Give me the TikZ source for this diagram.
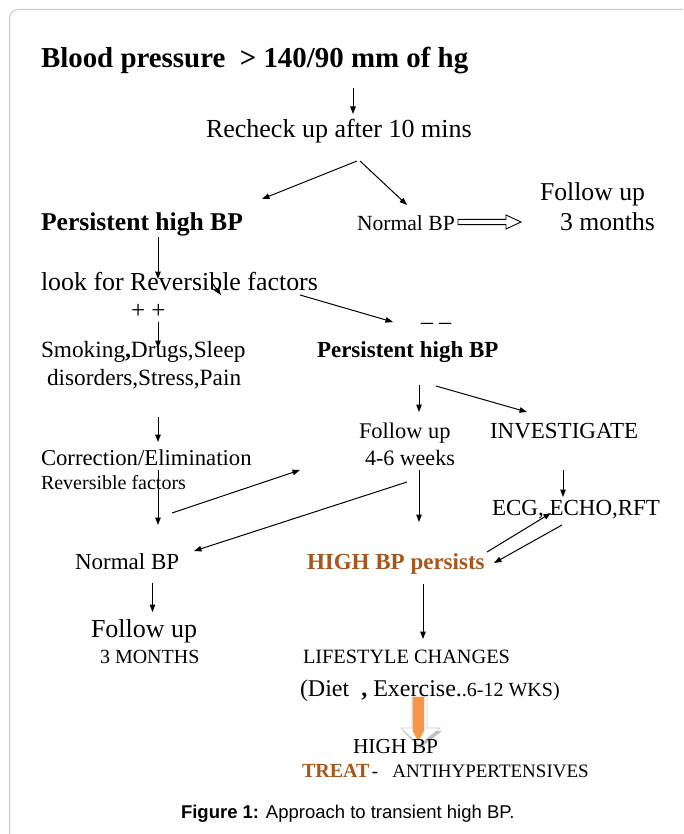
\documentclass[tikz,border=0pt]{standalone}
\usepackage{fontspec}
\setmainfont{Liberation Serif}
\newfontfamily\capfont{Liberation Sans}
\usetikzlibrary{arrows.meta,calc}
\definecolor{brownred}{RGB}{166,88,28}
\definecolor{boxorange}{RGB}{247,150,70}
\definecolor{framegray}{RGB}{200,200,200}
\newcommand\setfs[1]{\fontsize{#1}{#1}\selectfont}
\tikzset{
  txt/.style={anchor=base west, inner sep=0pt, outer sep=0pt},
  arr/.style={-{Triangle[length=7.5pt,width=5.5pt]}, line width=1pt, black},
}
\begin{document}
\begin{tikzpicture}[x=1pt,y=-1pt]
\useasboundingbox (0,0) rectangle (683,834);
\clip (0,0) rectangle (683,834);
\fill[white] (0,0) rectangle (683,834);
\draw[framegray, line width=1pt, rounded corners=9pt] (720,9.5) -- (9.5,9.5) -- (9.5,860);

% texts
\node[txt] (title) at (41,68) {\setfs{28.9}\bfseries Blood pressure~~> 140/90 mm of hg};
\node[txt] (recheck) at (206,138) {\setfs{26}Recheck up after 10 mins};
\node[txt] (pers1) at (41,230) {\setfs{25.6}\bfseries Persistent high BP};
\node[txt] (norm1) at (357,230) {\setfs{21.6}Normal BP};
\node[txt] (fu1) at (540,201) {\setfs{25.7}Follow up};
\node[txt] (fu1b) at (560,230) {\setfs{25.7}3 months};
\node[txt] (look) at (41,290) {\setfs{25.9}look for Reversible factors};
\node[txt] (pp) at (131,318) {\setfs{25}+ +};
\node[txt] (mm) at (421,329) {\setfs{24}– –};
\node[txt] (smk1) at (41,357) {\setfs{23.3}Smoking{\bfseries ,}Drugs,Sleep};
\node[txt] (smk2) at (47,385) {\setfs{23.3}disorders,Stress,Pain};
\node[txt] (pers2) at (317,357) {\setfs{23}\bfseries Persistent high BP};
\node[txt] (fu2) at (359,438) {\setfs{22.4}Follow up};
\node[txt] (fu2b) at (365,465) {\setfs{22}4-6 weeks};
\node[txt] (inv) at (490,438) {\setfs{23}INVESTIGATE};
\node[txt] (corr) at (41,465) {\setfs{22.7}Correction/Elimination};
\node[txt] (revf) at (41,489) {\setfs{20}Reversible factors};
\node[txt] (ecg) at (492,515) {\setfs{23}ECG, ECHO,RFT};
\node[txt] (norm2) at (75,569) {\setfs{23}Normal BP};
\node[txt] (hbp) at (307,569) {\setfs{23}\bfseries\color{brownred}HIGH BP persists};
\node[txt] (fu3) at (91,637) {\setfs{26}Follow up};
\node[txt] (fu3b) at (100,663) {\setfs{20}3 MONTHS};
\node[txt] (life) at (303,663) {\setfs{20.3}LIFESTYLE CHANGES};
\node[txt] (diet) at (300,696) {{\setfs{24}(Diet~~{\bfseries ,} Exercise.}{\setfs{20}.6-12 WKS)}};

% orange block arrow
\fill[black!25] (403,731) -- (442,731) -- (420,748) -- cycle;
\fill[white, draw=black!20, line width=0.6pt] (412,697) -- (427,697) -- (427,728) -- (440,728) -- (419,745) -- (401,728) -- (412,728) -- cycle;
\fill[boxorange] (412.5,697) -- (424,697) -- (424,731) -- (418.2,741) -- (412.5,731) -- cycle;

\node[txt] (hbp2) at (353,753) {\setfs{21.4}HIGH BP};
\node[txt] (treat) at (302,777) {{\setfs{20}\bfseries\color{brownred}TREAT} {\setfs{19}-~~~ANTIHYPERTENSIVES}};
\node[txt] (cap) at (181,818) {\capfont\setfs{18.5}\textbf{Figure 1:} Approach to transient high BP.};

% connector end points
\coordinate (a1s) at (353,88);   \coordinate (a1e) at (353,114);
\coordinate (a2s) at (357,161);  \coordinate (a2e) at (262,199);
\coordinate (a3s) at (360,161);  \coordinate (a3e) at (407,205);
\coordinate (a4s) at (158,237);  \coordinate (a4e) at (158,279);
\coordinate (a5s) at (212,283);  \coordinate (a5e) at (221,295);
\coordinate (a6s) at (300,295);  \coordinate (a6e) at (393,322);
\coordinate (a7s) at (158,322);  \coordinate (a7e) at (158,348);
\coordinate (a8s) at (158,417);  \coordinate (a8e) at (158,442);
\coordinate (a9s) at (419,385);  \coordinate (a9e) at (419,412);
\coordinate (a10s) at (436,386); \coordinate (a10e) at (527,412);
\coordinate (a11s) at (158,470); \coordinate (a11e) at (158,525);
\coordinate (a12s) at (172,513); \coordinate (a12e) at (300,470);
\coordinate (a13s) at (419,470); \coordinate (a13e) at (419,522);
\coordinate (a14s) at (407,482); \coordinate (a14e) at (194,551);
\coordinate (a15s) at (563,470); \coordinate (a15e) at (563,497);
\coordinate (a16s) at (487,552); \coordinate (a16e) at (551,513);
\coordinate (a17s) at (562,525); \coordinate (a17e) at (494,563);
\coordinate (a18s) at (152.5,583); \coordinate (a18e) at (152.5,612);
\coordinate (a19s) at (423,584); \coordinate (a19e) at (423,639);

\foreach \i in {1,2,3,4,5,6,7,8,9,10,11,12,13,14,15,16,17,18,19}
  \draw[arr] (a\i s) -- (a\i e);

% open double arrow Normal BP -> Follow up
\coordinate (oa) at (458,222);
\coordinate (ob) at (521,222);
\draw[line width=0.9pt, fill=white] ($(oa)+(0,-2.6)$) -- ($(oa)+(48,-2.6)$) -- ($(oa)+(48,-7)$) -- (ob) -- ($(oa)+(48,7)$) -- ($(oa)+(48,2.6)$) -- ($(oa)+(0,2.6)$) -- cycle;
\end{tikzpicture}
\end{document}
